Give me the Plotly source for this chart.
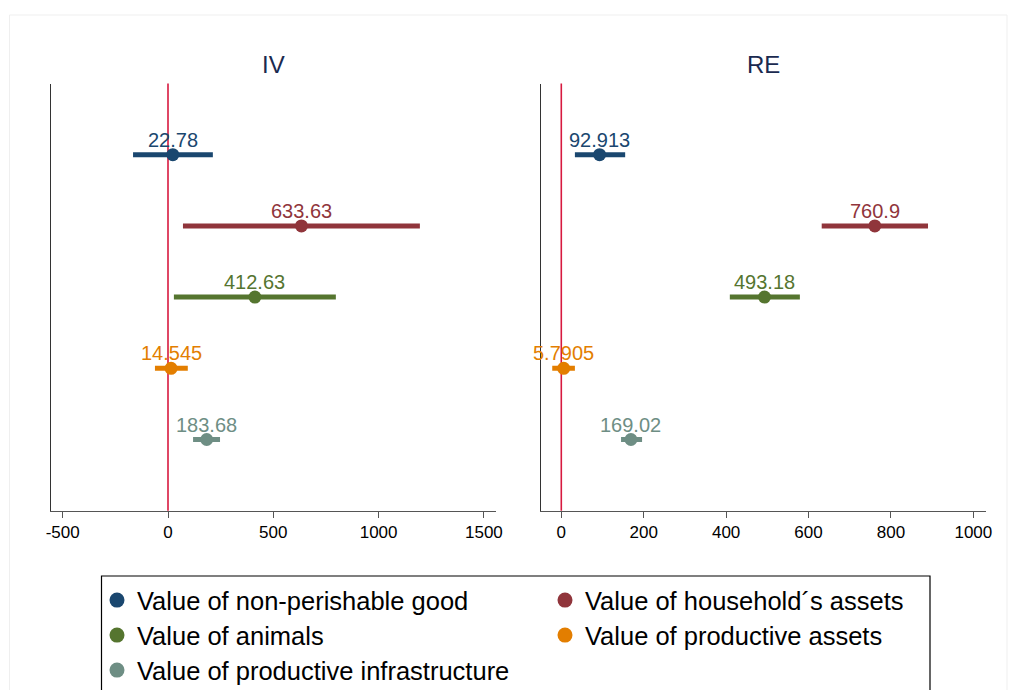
import plotly.graph_objects as go

# ---- data ----
categories = ["Value of non-perishable good", "Value of household\u00b4s assets",
              "Value of animals", "Value of productive assets",
              "Value of productive infrastructure"]
colors = ["#1a476f", "#90353b", "#55752f", "#e37e00", "#6e8e84"]
positions = [1, 2, 3, 4, 5]

iv_coef = [22.78, 633.63, 412.63, 14.545, 183.68]
iv_lo = [-166, 71, 28, -62, 119]
iv_hi = [213, 1196, 797, 94, 247]

re_coef = [92.913, 760.9, 493.18, 5.7905, 169.02]
re_lo = [33, 632, 409, -22, 145]
re_hi = [155, 890, 579, 33, 196]

iv_ticks = [-500, 0, 500, 1000, 1500]
re_ticks = [0, 200, 400, 600, 800, 1000]
panel_titles = ["IV", "RE"]
legend_rows = ["legend", "legend", "legend2", "legend2", "legend3"]

W, H = 1012, 690
FONT = "Liberation Sans, Arial, sans-serif"

def px_x(p):
    return p / W

def px_y(p):
    return 1 - p / H

fig = go.Figure()
annotations = []
panels = [("x", "y", iv_coef, iv_lo, iv_hi), ("x2", "y2", re_coef, re_lo, re_hi)]
for pi, (xa, ya, coef, lo, hi) in enumerate(panels):
    for i, name in enumerate(categories):
        fig.add_trace(go.Scatter(
            x=[coef[i]], y=[positions[i]], xaxis=xa, yaxis=ya,
            mode="markers", name=name, legendgroup=name,
            showlegend=False,
            marker=dict(color=colors[i], size=13),
            error_x=dict(type="data", symmetric=False,
                         array=[hi[i] - coef[i]], arrayminus=[coef[i] - lo[i]],
                         color=colors[i], thickness=5, width=0),
            hoverinfo="skip",
        ))
        annotations.append(dict(
            x=coef[i], y=positions[i], xref=xa, yref=ya,
            text=f"{coef[i]:.5g}", showarrow=False, yshift=15,
            font=dict(family=FONT, size=20, color=colors[i]),
            xanchor="center", yanchor="middle",
        ))

# legend entries (marker keys only)
for i, name in enumerate(categories):
    fig.add_trace(go.Scatter(
        x=[None], y=[None], mode="markers", name=name, legendgroup=name,
        legend=legend_rows[i], showlegend=True,
        marker=dict(color=colors[i], size=15), hoverinfo="skip",
    ))

# panel titles
dom_left = [px_x(50.7), px_x(495.7)]
dom_right = [px_x(540.7), px_x(985.7)]
for dom, t in zip([dom_left, dom_right], panel_titles):
    annotations.append(dict(
        x=(dom[0] + dom[1]) / 2, y=px_y(64), xref="paper", yref="paper",
        text=t, showarrow=False, xanchor="center", yanchor="middle",
        font=dict(family=FONT, size=24, color="#1a2a50"),
    ))

shapes = []
for xa in ["x", "x2"]:
    shapes.append(dict(type="line", xref=xa, yref=("y" if xa == "x" else "y2") + " domain",
                       x0=0, x1=0, y0=0, y1=1, layer="below",
                       line=dict(color="#d7193f", width=1.6)))
shapes.append(dict(type="rect", xref="paper", yref="paper",
                   x0=px_x(9.5), x1=px_x(1007), y0=px_y(700), y1=px_y(15),
                   line=dict(color="#efefef", width=1), layer="below"))
shapes.append(dict(type="rect", xref="paper", yref="paper",
                   x0=px_x(101.5), x1=px_x(930), y0=px_y(700), y1=px_y(576),
                   line=dict(color="#000000", width=1.2)))

ydom = [px_y(510.7), px_y(83.5)]
axis_common = dict(showgrid=False, zeroline=False, showline=True,
                   linecolor="#555555", linewidth=1.2, ticks="outside",
                   ticklen=6, tickwidth=1.2, tickcolor="#555555",
                   tickfont=dict(family=FONT, size=17, color="#000000"))
yaxis_common = dict(showgrid=False, zeroline=False, showline=True,
                    linecolor="#333333", linewidth=1.2, showticklabels=False,
                    ticks="", range=[6, 0])

def legend_at(top_px):
    return dict(orientation="h", x=px_x(97), y=px_y(top_px), xanchor="left",
                yanchor="top", entrywidth=403, entrywidthmode="pixels",
                font=dict(family=FONT, size=25.5, color="#000000"),
                bgcolor="rgba(0,0,0,0)", borderwidth=0, itemclick=False,
                itemsizing="trace")

fig.update_layout(
    width=W, height=H,
    margin=dict(l=0, r=0, t=0, b=0, autoexpand=False),
    paper_bgcolor="white", plot_bgcolor="white",
    xaxis=dict(domain=dom_left, range=[-557, 1556], tickvals=iv_ticks,
               ticktext=[str(v) for v in iv_ticks], anchor="y", **axis_common),
    yaxis=dict(domain=ydom, anchor="x", **yaxis_common),
    xaxis2=dict(domain=dom_right, range=[-50, 1030], tickvals=re_ticks,
                ticktext=[str(v) for v in re_ticks], anchor="y2", **axis_common),
    yaxis2=dict(domain=ydom, anchor="x2", **yaxis_common),
    showlegend=True,
    legend=legend_at(577),
    legend2=legend_at(612),
    legend3=legend_at(647),
    annotations=annotations,
    shapes=shapes,
    font=dict(family=FONT),
)

fig.write_html("out.html")
